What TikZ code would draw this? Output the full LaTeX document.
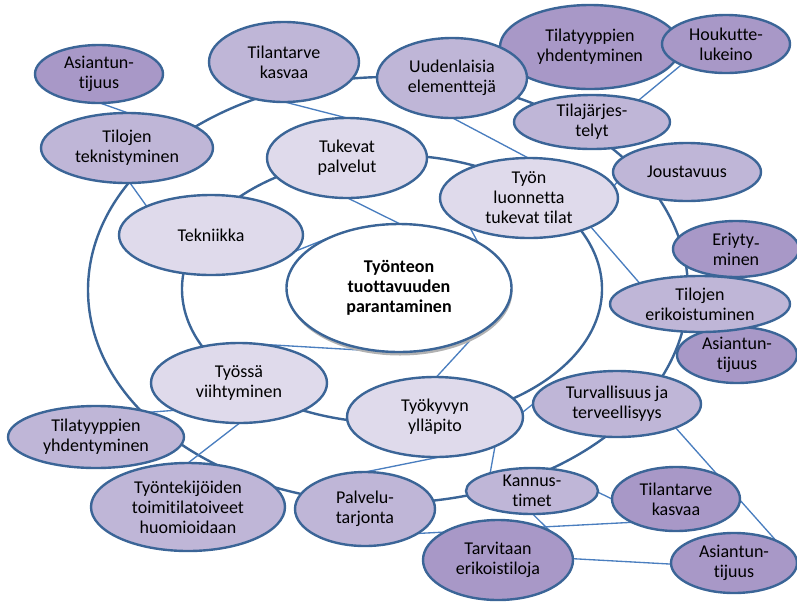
\documentclass[tikz,border=0pt]{standalone}
\usepackage{fontspec}
\setmainfont{Carlito}[Ligatures={NoCommon}]
\usetikzlibrary{shapes.geometric}
\pgfdeclarelayer{back}
\pgfsetlayers{back,main}
\definecolor{lite}{HTML}{DFDAEB}
\definecolor{mid}{HTML}{BFB6D7}
\definecolor{deep}{HTML}{A898C7}
\definecolor{rim}{HTML}{3B6597}
\definecolor{wirecol}{HTML}{4A7EBF}

% bubble: name, fill, x, y, x-radius, y-radius (px), text
\newcommand\bubble[7]{%
  \node[bub, fill=#2, minimum width=#5*1.5pt, minimum height=#6*1.5pt] (#1) at (#3,#4) {};
  \node[txt] (#1-t) at (#1) {#7};}

\begin{document}
\begin{tikzpicture}[x=0.75pt, y=-0.75pt,
  bub/.style={ellipse, draw=rim, line width=1.8pt, inner sep=0pt, outer sep=0pt},
  txt/.style={align=center, font=\fontsize{13.5}{15}\selectfont, text=black, inner sep=0pt},
  ring/.style={draw=rim, line width=1.8pt},
  link/.style={draw=wirecol, line width=1pt}]
\useasboundingbox (0,0) rectangle (797,601);

% central idea with its soft shadow
\fill[black!30] (400,291) ellipse [x radius=112.5, y radius=64.5];
\bubble{cen}{white}{399}{288}{112.5}{64}{}
\node[txt, font=\fontsize{13.5}{15}\selectfont\bfseries] (cen-t) at (cen) {Työnteon\\tuottavuuden\\parantaminen};

% first ring of factors
\bubble{tuk}{lite}{347}{158}{80}{40}{Tukevat\\palvelut}
\bubble{tekni}{lite}{211}{235}{92}{40}{Tekniikka}
\bubble{tyon}{lite}{529}{198}{89}{40}{Työn\\luonnetta\\tukevat tilat}
\bubble{viih}{lite}{239}{383}{88}{40}{Työssä\\viihtyminen}
\bubble{kyky}{lite}{435}{417}{88}{40}{Työkyvyn\\ylläpito}

% outer ring of trends
\bubble{asTL}{deep}{99}{74}{64}{29}{Asiantun-\\tijuus}
\bubble{tkTop}{mid}{284}{62}{75}{40}{Tilantarve\\kasvaa}
\bubble{tekn}{mid}{127}{148}{86}{35}{Tilojen\\teknistyminen}
\bubble{yhdT}{deep}{590}{47}{90}{42}{Tilatyyppien\\yhdentyminen}
\bubble{uud}{mid}{452}{78}{75}{40}{Uudenlaisia\\elementtejä}
\bubble{houk}{deep}{726}{44}{64}{29}{Houkutte-\\lukeino}
\bubble{tjar}{mid}{592}{122}{78}{27}{Tilajärjes-\\telyt}
\bubble{jous}{mid}{687}{172}{74}{29}{Joustavuus}
\bubble{eriy}{deep}{736}{249}{63}{28}{Eriyty\raisebox{-.22em}{-}\\minen}
\bubble{asR}{deep}{737}{355}{60}{28}{Asiantun-\\tijuus}
\bubble{erik}{mid}{700}{304}{90}{28}{Tilojen\\erikoistuminen}
\bubble{turv}{mid}{617}{404}{84}{33}{Turvallisuus ja\\terveellisyys}
\bubble{yhdL}{mid}{96}{437}{88}{31}{Tilatyyppien\\yhdentyminen}
\bubble{tont}{mid}{188}{507}{97}{44}{Työntekijöiden\\toimitilatoiveet\\huomioidaan}
\bubble{palv}{mid}{365}{509}{70}{37}{Palvelu-\\tarjonta}
\bubble{kann}{mid}{532}{491}{66}{23}{Kannus-\\timet}
\bubble{tkB}{deep}{676}{499}{64}{32}{Tilantarve\\kasvaa}
\bubble{tarv}{deep}{498}{560}{75}{40}{Tarvitaan\\erikoistiloja}
\bubble{asB}{deep}{734}{563}{63}{30}{Asiantun-\\tijuus}

\begin{pgfonlayer}{back}
  % the two rings running through the bubbles
  \draw[ring] (388,290) ellipse [x radius=300, y radius=213];
  \draw[ring] (392,289) ellipse [x radius=210, y radius=134];
  % thin links
  \draw[link] (asTL.-88) -- (tekn.88);
  \draw[link] (tekn.-85) -- (tekni.156);
  \draw[link] (tkTop.-89) -- (tuk.90);
  \draw[link] (tuk.-89) -- (cen.89);
  \draw[link] (uud.-89) -- (tyon.91);
  \draw[link] (houk.205) -- (tjar.25);
  \draw[link] (jous.188) -- (tyon.8);
  \draw[link] (tyon.-25) -- (erik.161);
  \draw[link] (tekni.-11) -- (cen.141);
  \draw[link] (tyon.207) -- (cen.30);
  \draw[link] (viih.89) -- (cen.-98);
  \draw[link] (cen.-32) -- (kyky.88);
  \draw[link] (yhdL.25) -- (viih.203);
  \draw[link] (viih.-89) -- (tont.90);
  \draw[link] (palv.90) -- (kyky.-83);
  \draw[link] (kyky.-26) -- (kann.157);
  \draw[link] (kann.-1) -- (tkB.180);
  \draw[link] (kann.-88) -- (tarv.29);
  \draw[link] (palv.-25) -- (tkB.208);
  \draw[link] (tarv.1) -- (asB.181);
  \draw[link] (turv.-22) -- (asB.28);
  \draw[link] (kyky.3) -- (turv.180);
\end{pgfonlayer}
\end{tikzpicture}
\end{document}
